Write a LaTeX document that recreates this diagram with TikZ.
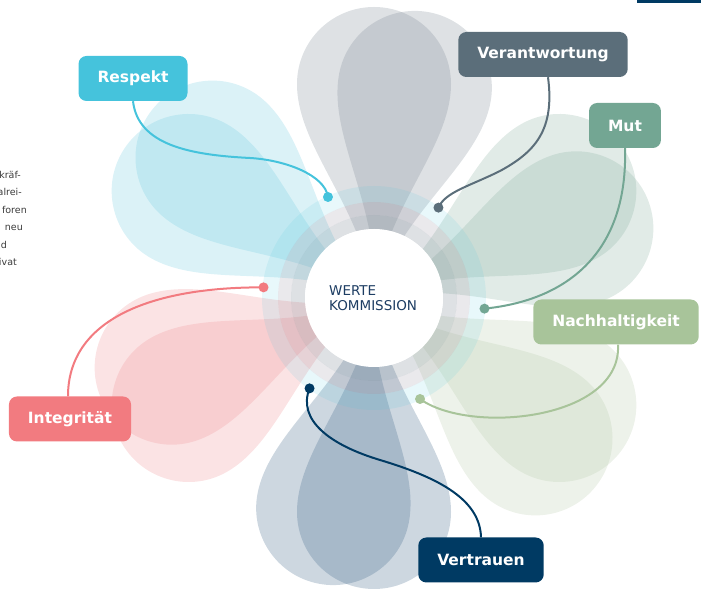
\documentclass[tikz,border=0pt]{standalone}
\usepackage{fontspec}
\setmainfont{DejaVu Sans}

\definecolor{respekt}{HTML}{45C3DC}
\definecolor{verantwortung}{HTML}{5B6E7A}
\definecolor{mut}{HTML}{73A693}
\definecolor{nachhaltigkeit}{HTML}{A8C49A}
\definecolor{vertrauen}{HTML}{003A63}
\definecolor{integritaet}{HTML}{F27B80}
\definecolor{petalgray}{HTML}{7B8793}
\definecolor{petalmut}{HTML}{87AF9F}
\definecolor{petalnach}{HTML}{B7CBAB}
\definecolor{petalvert}{HTML}{375F83}
\definecolor{petalint}{HTML}{EF8F93}
\definecolor{petalres}{HTML}{6FCBDF}
\definecolor{ringmid}{HTML}{8A8396}
\definecolor{kommission}{HTML}{1D3D63}
\definecolor{textgray}{HTML}{3C3C3C}

\begin{document}
\begin{tikzpicture}[x=1pt,y=1pt,
            value node/.style={rounded corners=8pt,inner xsep=19pt,minimum height=45pt,
              text=white,font=\fontsize{15.5}{18}\selectfont\bfseries},
            link/.style={line width=2pt},
            petal/.style={opacity=.25}]

        \useasboundingbox (0,0) rectangle (701,591);
        \clip (0,0) rectangle (701,591);
        \coordinate (C) at (374,293);

        % Petals
        \foreach \ang/\col in {90/petalgray,30/petalmut,-30/petalnach,-90/petalvert,210/petalint,150/petalres}
          \foreach \off in {0,-11}
            \fill[petal,fill=\col,shift={(C)},rotate=\ang+\off]
              (0,0) .. controls (90,10) and (150,77) .. (214,77)
              arc[start angle=90,end angle=-90,radius=77]
              .. controls (150,-77) and (90,-10) .. (0,0) -- cycle;

        % Rings
        \fill[petalgray,opacity=.25,even odd rule] (C) circle (83) circle (69);
        \fill[ringmid,opacity=.18,even odd rule] (C) circle (96) circle (83);
        \fill[respekt,opacity=.12,even odd rule] (C) circle (112) circle (96);
        \fill[white] (C) circle (69);

        \node[anchor=base west,inner sep=0,text=kommission,font=\fontsize{13.5}{16}\selectfont] (werte) at (329,295) {WERTE};
        \node[anchor=base west,inner sep=0,text=kommission,font=\fontsize{13.5}{16}\selectfont] (kommission) at (329,280) {KOMMISSION};

        % Define values
        \node[value node,fill=respekt] (Res) at (133,512.5) {Respekt};
        \node[value node,fill=verantwortung] (Ver) at (543,536.5) {Verantwortung};
        \node[value node,fill=mut] (Mut) at (625,465.5) {Mut};
        \node[value node,fill=nachhaltigkeit] (Nach) at (616,269) {Nachhaltigkeit};
        \node[value node,fill=vertrauen] (Vert) at (481,31) {Vertrauen};
        \node[value node,fill=integritaet] (Int) at (70,172) {Integrität};

        % Dots
        \path (C) ++(114.5:111) coordinate (dRes)
              (C) ++(54.5:111) coordinate (dVer)
              (C) ++(-5.5:111) coordinate (dMut)
              (C) ++(-65.5:111) coordinate (dNach)
              (C) ++(-125.5:111) coordinate (dVert)
              (C) ++(174.5:111) coordinate (dInt);

        % Draw links
        \draw[link,respekt] (Res.south) .. controls (138,446) and (190,436) .. (250,433)
              .. controls (285,431) and (325,416) .. (dRes);
        \draw[link,verantwortung] ([xshift=5pt]Ver.south) .. controls (555,461) and (535,439) .. (500,420)
              .. controls (470,405) and (445,399) .. (dVer);
        \draw[link,mut] (Mut.south) .. controls (628,341) and (570,291) .. (dMut);
        \draw[link,nachhaltigkeit] ([xshift=2pt]Nach.south) .. controls (622,171) and (470,156) .. (dNach);
        \draw[link,vertrauen] (dVert) .. controls (297,171) and (330,146) .. (380,131)
              .. controls (440,113) and (480,91) .. (Vert.north);
        \draw[link,integritaet] (dInt) .. controls (150,304) and (68,271) .. ([xshift=-2pt]Int.north);

        \foreach \d/\col in {dRes/respekt,dVer/verantwortung,dMut/mut,dNach/nachhaltigkeit,dVert/vertrauen,dInt/integritaet}
          \fill[\col] (\d) circle (5);

        % Text at the edge
        \foreach \txt/\xr/\yb [count=\i] in {kräf-/21/412.5,alrei-/22/395,foren/27/377.5,neu/23/360,d/7/342.5,ivat/17/325}
          \node[anchor=base east,inner sep=0,text=textgray,font=\fontsize{9.5}{11}\selectfont] (frag\i) at (\xr,\yb) {\txt};

        \fill[vertrauen] (637,588) rectangle (701,591);

        \end{tikzpicture}
\end{document}
